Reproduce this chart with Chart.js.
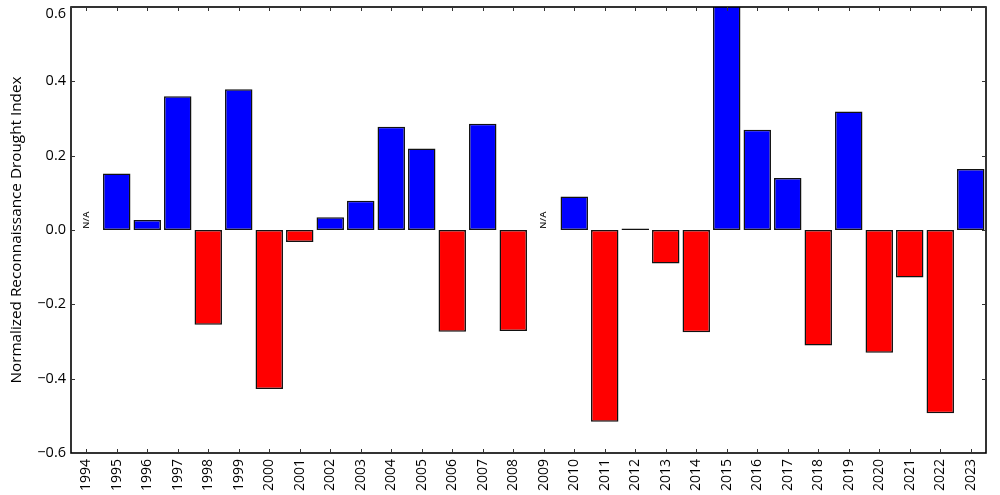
<!DOCTYPE html>
<html>
<head>
<meta charset="utf-8">
<script src="https://cdn.jsdelivr.net/npm/chart.js@4/dist/chart.umd.min.js"></script>
<style>
  html, body { margin: 0; padding: 0; background: #fff; }
  #wrap { width: 1000px; height: 495px; }
</style>
</head>
<body>
<div id="wrap"><canvas id="rdi"></canvas></div>
<script>
// Years on the x axis
const years = ['1994', '1995', '1996', '1997', '1998', '1999', '2000', '2001', '2002', '2003',
               '2004', '2005', '2006', '2007', '2008', '2009', '2010', '2011', '2012', '2013',
               '2014', '2015', '2016', '2017', '2018', '2019', '2020', '2021', '2022', '2023'];

// Normalized RDI per year (null = no data, shown as N/A)
const rdiValues = [null, 0.152, 0.027, 0.360, -0.255, 0.379, -0.428, -0.032, 0.034, 0.079,
                   0.278, 0.219, -0.274, 0.286, -0.272, null, 0.090, -0.516, 0.004, -0.090,
                   -0.275, 0.650, 0.270, 0.140, -0.311, 0.319, -0.330, -0.128, -0.493, 0.164];

// Y axis ticks
const yTicks = [-0.6, -0.4, -0.2, 0.0, 0.2, 0.4, 0.6];

const FONT = "'Open Sans', 'DejaVu Sans', sans-serif";

// Frame, inward ticks, y tick labels and N/A labels (matplotlib classic look)
const framePlugin = {
    id: 'frame',
    afterDraw(chart) {
        const ctx = chart.ctx;
        const area = chart.chartArea;
        const xs = chart.scales.x;
        const ys = chart.scales.y;
        ctx.save();
        ctx.strokeStyle = '#000';
        ctx.lineWidth = 1.6;
        ctx.strokeRect(area.left, area.top, area.right - area.left, area.bottom - area.top);

        ctx.strokeStyle = '#333';
        ctx.lineWidth = 1;
        const len = 4;
        years.forEach((y, i) => {
            const px = Math.round(xs.getPixelForValue(i)) + 0.5;
            ctx.beginPath();
            ctx.moveTo(px, area.bottom);
            ctx.lineTo(px, area.bottom - len);
            ctx.moveTo(px, area.top);
            ctx.lineTo(px, area.top + len);
            ctx.stroke();
        });
        yTicks.forEach(v => {
            const py = Math.round(ys.getPixelForValue(v)) + 0.5;
            ctx.beginPath();
            ctx.moveTo(area.left, py);
            ctx.lineTo(area.left + len, py);
            ctx.moveTo(area.right, py);
            ctx.lineTo(area.right - len, py);
            ctx.stroke();
        });

        // y tick labels (top one kept inside the canvas)
        ctx.fillStyle = '#000';
        ctx.font = '14.5px ' + FONT;
        ctx.textAlign = 'right';
        ctx.textBaseline = 'middle';
        yTicks.forEach(v => {
            const py = Math.max(ys.getPixelForValue(v), area.top + 7);
            ctx.fillText(v.toFixed(1).replace('-', '\u2212'), area.left - 5, py);
        });

        // N/A markers for missing years
        ctx.fillStyle = '#222';
        ctx.font = '600 9.5px ' + FONT;
        ctx.textAlign = 'left';
        ctx.textBaseline = 'middle';
        rdiValues.forEach((v, i) => {
            if (v !== null) return;
            const px = xs.getPixelForValue(i);
            const py = ys.getPixelForValue(0) - 1;
            ctx.save();
            ctx.translate(px, py);
            ctx.rotate(-Math.PI / 2);
            ctx.fillText('N/A', 0, 0);
            ctx.restore();
        });
        ctx.restore();
    }
};

new Chart(document.getElementById('rdi'), {
    type: 'bar',
    data: {
        labels: years,
        datasets: [{
            data: rdiValues,
            backgroundColor: rdiValues.map(v => v !== null && v < 0 ? '#ff0000' : '#0000ff'),
            borderColor: '#111',
            borderWidth: 1.5,
            borderSkipped: false,
            barPercentage: 0.9,
            categoryPercentage: 1.0
        }]
    },
    options: {
        responsive: true,
        maintainAspectRatio: false,
        animation: false,
        layout: { padding: { top: 7, right: 14, left: 0, bottom: 0 } },
        plugins: {
            legend: { display: false },
            tooltip: { enabled: false }
        },
        scales: {
            x: {
                grid: { display: false, drawTicks: false },
                border: { display: false },
                ticks: {
                    color: '#000',
                    font: { family: FONT, size: 14 },
                    minRotation: 90,
                    maxRotation: 90,
                    padding: 6,
                    autoSkip: false
                },
                afterFit(scale) { scale.height = 42; }
            },
            y: {
                min: -0.6,
                max: 0.6,
                grid: { display: false, drawTicks: false },
                border: { display: false },
                afterBuildTicks(scale) {
                    scale.ticks = yTicks.map(v => ({ value: v }));
                },
                ticks: { display: false },
                title: {
                    display: true,
                    text: 'Normalized Reconnaissance Drought Index',
                    color: '#000',
                    font: { family: FONT, size: 15.3 },
                    padding: { top: 7, bottom: 0 }
                },
                afterFit(scale) {
                    scale.width = 71;
                    scale.paddingTop = 0;
                    scale.paddingBottom = 0;
                }
            }
        }
    },
    plugins: [framePlugin]
});
</script>
</body>
</html>
